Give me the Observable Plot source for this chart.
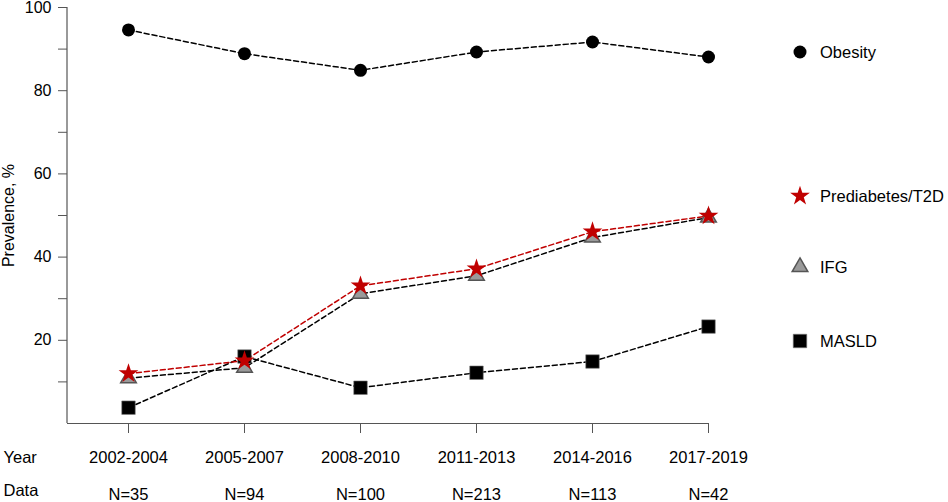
<!DOCTYPE html>
<html>
<head>
<meta charset="utf-8">
<script src="https://cdn.jsdelivr.net/npm/d3@7"></script>
<script src="https://cdn.jsdelivr.net/npm/@observablehq/plot@0.6"></script>
<style>
  html, body { margin: 0; padding: 0; background: #fff; }
  #wrap { position: relative; width: 948px; height: 502px; font-family: "Liberation Sans", Arial, sans-serif; }
  #legend { position: absolute; left: 0; top: 0; }
</style>
</head>
<body>
<div id="wrap"></div>
<script>
const periods = ["2002-2004", "2005-2007", "2008-2010", "2011-2013", "2014-2016", "2017-2019"];
const sampleN = [35, 94, 100, 213, 113, 42];
const obesity = [94.6, 88.9, 84.9, 89.3, 91.7, 88.1];
const prediabetes = [12.0, 15.1, 33.1, 37.2, 46.1, 49.9];
const ifg = [10.9, 13.4, 31.2, 35.5, 44.7, 49.5];
const masld = [3.8, 16.1, 8.6, 12.2, 14.9, 23.3];
const yTicks = [10, 20, 30, 40, 50, 60, 70, 80, 90, 100];

const seriesDefs = [
  {name: "Obesity", values: obesity, symbol: "circle", fill: "#000", stroke: "none", line: "#000", r: 6.5},
  {name: "MASLD", values: masld, symbol: "square", fill: "#000", stroke: "#777", line: "#000", r: 7.6},
  {name: "IFG", values: ifg, symbol: "triangle", fill: "#9a9a9a", stroke: "#555", line: "#000", r: 5.8},
  {name: "Prediabetes/T2D", values: prediabetes, symbol: "star", fill: "#c00000", stroke: "none", line: "#c00000", r: 6.2}
];

const rows = seriesDefs.map(s => periods.map((p, i) => ({period: p, value: s.values[i], series: s.name})));

const marks = [];
seriesDefs.forEach((s, k) => {
  marks.push(Plot.line(rows[k], {x: "period", y: "value", stroke: s.line, strokeWidth: 1.5, strokeDasharray: "5,3"}));
});
seriesDefs.forEach((s, k) => {
  marks.push(Plot.dot(rows[k], {x: "period", y: "value", symbol: () => s.symbol, r: s.r, fill: s.fill, stroke: s.stroke, strokeWidth: s.symbol === "triangle" ? 1.5 : 0.6}));
});

const chart = Plot.plot({
  width: 948,
  height: 502,
  marginLeft: 67,
  marginRight: 240,
  marginTop: 7,
  marginBottom: 79,
  style: {fontFamily: "'Liberation Sans', Arial, sans-serif", fontSize: "16px", background: "#fff", color: "#000"},
  x: {type: "point", domain: periods, padding: 0.25, align: 1},
  y: {domain: [0, 100]},
  symbol: {type: "identity"},
  marks: [
    Plot.ruleY([0], {stroke: "#555", strokeWidth: 1.2}),
    Plot.axisY({ticks: yTicks, tickFormat: d => d % 20 === 0 ? d : "", tickSize: 9, tickPadding: 7, stroke: "#555", fill: "#000", label: "Prevalence, %", labelAnchor: "center", labelArrow: "none", labelOffset: 65, fontSize: 16}),
    Plot.axisX({tickSize: 10, tickPadding: 18, stroke: "#555", fill: "#000", label: null, fontSize: 16.5}),
    Plot.axisX({tickSize: 0, tickPadding: 65, tickFormat: d => "N=" + sampleN[periods.indexOf(d)], fill: "#000", label: null, fontSize: 16.5}),
    Plot.text(["Year"], {frameAnchor: "bottom-left", dx: -64, dy: 39, textAnchor: "start", fontSize: 16.5, fill: "#000"}),
    Plot.text(["Data"], {frameAnchor: "bottom-left", dx: -64, dy: 72, textAnchor: "start", fontSize: 16.5, fill: "#000"}),
    ...marks
  ]
});

const wrap = document.getElementById("wrap");
wrap.appendChild(chart);

// vertical y-axis line drawn from the y scale
const ys = chart.scale("y");
d3.select(chart).append("line").attr("x1", 67).attr("x2", 67).attr("y1", ys.apply(0)).attr("y2", ys.apply(100))
  .attr("stroke", "#555").attr("stroke-width", 1.2);

// Legend (overlay to the right of the plot)
const legendItems = [
  {def: seriesDefs[0], top: 52},
  {def: seriesDefs[3], top: 196},
  {def: seriesDefs[2], top: 267},
  {def: seriesDefs[1], top: 341}
];
const symMap = {circle: d3.symbolCircle, square: d3.symbolSquare, triangle: d3.symbolTriangle, star: d3.symbolStar};
const lg = d3.select(wrap).append("svg").attr("id", "legend").attr("width", 948).attr("height", 502)
  .style("pointer-events", "none");
legendItems.forEach(it => {
  const s = it.def;
  const g = lg.append("g").attr("transform", `translate(800,${it.top})`);
  g.append("path").attr("d", d3.symbol(symMap[s.symbol], Math.PI * s.r * s.r)())
    .attr("fill", s.fill).attr("stroke", s.stroke).attr("stroke-width", s.symbol === "triangle" ? 1.5 : 0.6);
  g.append("text").attr("x", 20).attr("dy", "0.35em").attr("font-size", 16.5)
    .attr("font-family", "'Liberation Sans', Arial, sans-serif").text(s.name);
});
</script>
</body>
</html>
